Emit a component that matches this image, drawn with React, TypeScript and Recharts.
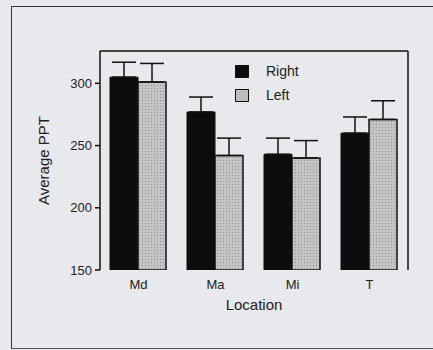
import React from 'react';
import { BarChart, Bar, XAxis, YAxis, ErrorBar, Legend } from 'recharts';

const categories = ['Md', 'Ma', 'Mi', 'T'];
const rightValues = [305, 277, 243, 260];
const leftValues = [301, 242, 240, 271];
const rightErr = [12, 12, 13, 13];
const leftErr = [15, 14, 14, 15];
const yTicks = [150, 200, 250, 300];
const boundaryTicks = [0, 1, 2, 3, 4];

const data = categories.map((name, i) => ({
    name,
    right: rightValues[i],
    left: leftValues[i],
    rightErr: [0, rightErr[i]],
    leftErr: [0, leftErr[i]],
}));

const font = '"Liberation Sans", Arial, sans-serif';

const LegendBox: React.FC = () => (
    <div style={{ fontFamily: font, fontSize: 14, color: '#222' }}>
        {[{ label: 'Right', fill: '#0d0d0d' }, { label: 'Left', fill: '#bdbdc0' }].map((item) => (
            <div key={item.label} style={{ display: 'flex', alignItems: 'center', height: 24 }}>
                <div style={{
                    width: 12, height: 11, background: item.fill,
                    border: '1.5px solid #111', marginRight: 17,
                }} />
                <span>{item.label}</span>
            </div>
        ))}
    </div>
);

const YLabel = (props: any) => {
    const { x, y, height } = props.viewBox;
    const cx = x + 3;
    const cy = y + height / 2;
    return (
        <text x={cx} y={cy} transform={`rotate(-90, ${cx}, ${cy})`} textAnchor="middle"
            dominantBaseline="central" fontSize={15} fill="#222" fontFamily={font}>
            Average PPT
        </text>
    );
};

const App: React.FC = () => {
    return (
        <div style={{ position: 'absolute', left: 0, top: 0, width: 433, height: 350, background: '#e8e9ec' }}>
            <div style={{
                position: 'absolute', left: 11, top: 6, width: 430, height: 341,
                borderLeft: '1.5px solid #333', borderTop: '1.5px solid #333', borderBottom: '1.5px solid #555',
            }} />
            <div style={{ position: 'absolute', left: 0, top: 0 }}>
                <BarChart
                    width={433}
                    height={350}
                    data={data}
                    margin={{ top: 50, right: 24, left: 40, bottom: 40 }}
                    barCategoryGap="13%"
                    barGap={0}
                >
                    <defs>
                        <pattern id="stipple" width="3" height="3" patternUnits="userSpaceOnUse">
                            <rect width="3" height="3" fill="#c4c4c6" />
                            <rect x="1" y="1" width="1" height="1" fill="#8f8f92" />
                        </pattern>
                    </defs>
                    <XAxis xAxisId="grid" type="number" domain={[0, 4]} ticks={boundaryTicks}
                        allowDataOverflow height={0} tick={false} tickSize={5}
                        axisLine={{ stroke: '#111', strokeWidth: 1.5 }} tickLine={{ stroke: '#111', strokeWidth: 1.5 }} />
                    <XAxis xAxisId="cat" dataKey="name" height={40} axisLine={false} tickLine={false}
                        tickMargin={4} tick={{ fontSize: 13, fill: '#222', fontFamily: font }}
                        label={{ value: 'Location', position: 'insideBottom', offset: 0, fontSize: 15, fill: '#222', fontFamily: font }} />
                    <XAxis xAxisId="top" orientation="top" type="number" domain={[0, 4]} allowDataOverflow
                        height={1} tick={false} tickLine={false} axisLine={{ stroke: '#111', strokeWidth: 1.5 }} />
                    <YAxis domain={[150, 326]} ticks={yTicks} allowDataOverflow width={60} tickSize={5}
                        tickMargin={3} tick={{ fontSize: 13, fill: '#222', fontFamily: font }}
                        axisLine={{ stroke: '#111', strokeWidth: 1.5 }} tickLine={{ stroke: '#111', strokeWidth: 1.5 }}
                        label={<YLabel />} />
                    <YAxis yAxisId="r" orientation="right" type="number" domain={[150, 326]} allowDataOverflow
                        width={1} tick={false} tickLine={false} axisLine={{ stroke: '#111', strokeWidth: 1.5 }} />
                    <Legend layout="vertical" align="center" verticalAlign="middle"
                        wrapperStyle={{ left: 235, top: 59, width: 'auto' }} content={() => <LegendBox />} />
                    <Bar xAxisId="cat" dataKey="right" name="Right" fill="#0d0d0d" stroke="#0d0d0d"
                        strokeWidth={1} isAnimationActive={false}>
                        <ErrorBar dataKey="rightErr" width={12} stroke="#111" strokeWidth={1.5} direction="y" />
                    </Bar>
                    <Bar xAxisId="cat" dataKey="left" name="Left" fill="url(#stipple)" stroke="#111"
                        strokeWidth={1.5} isAnimationActive={false}>
                        <ErrorBar dataKey="leftErr" width={12} stroke="#111" strokeWidth={1.5} direction="y" />
                    </Bar>
                </BarChart>
            </div>
        </div>
    );
};

export default App;
